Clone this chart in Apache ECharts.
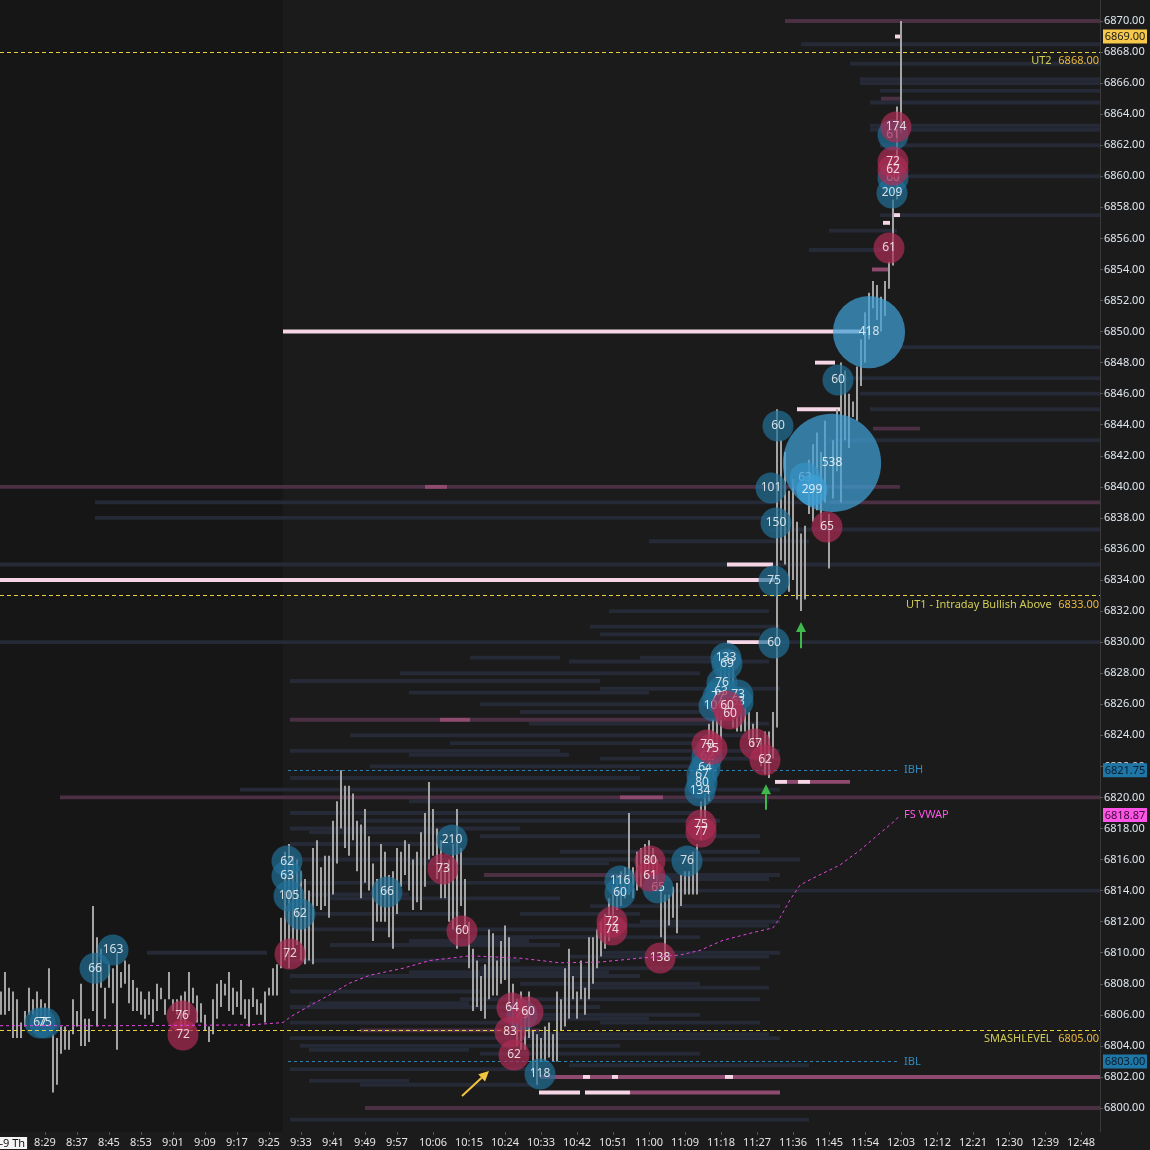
<!DOCTYPE html>
<html><head><meta charset="utf-8">
<script src="https://cdn.jsdelivr.net/npm/echarts@6/dist/echarts.min.js"></script>
<style>html,body{margin:0;padding:0;background:#1b1b1b;}#c{width:1150px;height:1150px;}</style>
</head><body><div id="c"></div>
<script>
// ---------------- DATA ----------------
// one-minute range bars, first bar at 8:18 (minute 498 of the day)
const barStartMinute = 498;
const barHigh = [6807.5,6808.75,6807.75,6807.5,6807.0,6805.5,6806.25,6807.75,6807.0,6807.5,
6807.0,6806.75,6809.0,6804.75,6804.5,6805.25,6805.25,6805.0,6807.0,6806.25,
6808.0,6805.75,6805.75,6813.0,6811.0,6810.25,6807.75,6809.25,6809.0,6810.0,
6808.75,6809.5,6809.25,6808.25,6807.75,6807.5,6807.0,6807.5,6807.0,6808.0,
6807.75,6807.0,6808.75,6807.0,6807.0,6807.25,6807.5,6808.75,6807.75,6807.25,
6806.75,6806.0,6805.25,6807.0,6808.0,6808.25,6808.0,6808.75,6807.75,6807.5,
6808.25,6807.0,6807.0,6807.75,6807.0,6806.75,6807.5,6807.75,6809.0,6809.25,
6812.25,6816.5,6817.0,6816.25,6816.0,6815.25,6814.75,6814.0,6816.75,6817.25,
6815.5,6816.25,6816.25,6818.5,6819.75,6821.75,6820.75,6820.75,6820.25,6818.5,
6818.25,6819.25,6817.5,6815.75,6814.75,6817.0,6816.5,6815.0,6815.25,6816.75,
6816.5,6817.25,6817.0,6816.0,6816.5,6817.75,6819.0,6821.0,6819.25,6818.0,
6817.25,6815.5,6816.0,6817.0,6819.25,6816.75,6814.75,6812.0,6810.25,6809.5,
6808.5,6809.25,6811.5,6811.25,6809.5,6810.75,6811.75,6811.0,6808.0,6807.0,
6807.5,6806.25,6807.5,6805.0,6804.75,6804.5,6805.25,6805.5,6804.75,6807.5,
6807.0,6809.0,6810.25,6808.5,6807.5,6809.5,6807.75,6811.0,6811.0,6811.5,
6812.0,6812.5,6813.5,6814.25,6815.0,6815.25,6815.5,6819.0,6815.5,6816.5,
6816.75,6817.0,6817.25,6816.75,6816.0,6814.25,6813.75,6813.75,6814.25,6814.5,
6815.0,6815.25,6815.25,6816.5,6817.0,6819.75,6820.25,6824.75,6825.0,6827.0,
6829.0,6829.25,6829.5,6829.0,6827.0,6826.75,6825.75,6825.5,6824.75,6825.5,
6823.75,6824.25,6824.25,6825.5,6845.0,6843.0,6842.25,6839.75,6840.5,6837.75,
6837.0,6837.5,6841.75,6842.75,6843.5,6842.25,6844.25,6838.25,6843.0,6845.0,
6848.0,6847.5,6846.0,6845.5,6847.75,6849.5,6851.25,6852.5,6853.25,6853.0,
6852.25,6853.25,6854.5,6858.5,6864.5,6870.0];
const barLow = [6806.0,6806.0,6806.25,6804.5,6804.5,6804.5,6805.25,6806.0,6806.0,6805.5,
6805.75,6805.5,6805.5,6801.0,6801.5,6803.5,6803.75,6803.75,6804.75,6805.25,
6804.0,6804.0,6804.25,6806.25,6805.25,6807.75,6805.75,6807.75,6806.75,6803.75,
6807.75,6808.0,6806.75,6806.25,6806.25,6806.0,6805.75,6806.0,6805.5,6806.25,
6807.0,6806.0,6807.0,6806.25,6806.0,6805.0,6805.25,6806.0,6806.75,6805.5,
6805.5,6805.0,6804.25,6804.75,6805.75,6806.5,6807.25,6806.25,6806.0,6806.5,
6806.0,6805.75,6805.25,6806.5,6806.0,6806.0,6805.5,6807.25,6807.25,6807.25,
6809.0,6809.5,6809.0,6810.25,6810.5,6809.5,6809.25,6809.5,6809.25,6813.0,
6812.75,6813.0,6812.25,6813.75,6815.75,6818.0,6816.75,6816.25,6817.25,6815.25,
6813.5,6814.5,6814.0,6810.75,6812.0,6812.0,6812.0,6811.0,6810.25,6812.5,
6814.25,6815.0,6814.0,6812.75,6813.25,6812.75,6814.25,6816.0,6816.25,6814.75,
6813.5,6813.5,6812.0,6811.5,6810.25,6813.0,6811.5,6809.0,6806.25,6806.5,
6806.25,6805.75,6807.0,6807.25,6807.25,6808.0,6808.25,6806.5,6805.0,6804.0,
6803.75,6803.75,6804.5,6802.25,6801.5,6803.0,6803.0,6803.25,6803.0,6803.0,
6805.0,6805.25,6805.75,6807.0,6805.75,6807.0,6806.0,6807.0,6808.0,6809.0,
6809.75,6810.25,6810.75,6811.5,6812.75,6813.0,6813.5,6813.75,6813.5,6814.0,
6814.25,6814.75,6815.25,6815.0,6814.25,6811.0,6809.5,6811.75,6812.25,6811.25,
6813.0,6813.75,6813.75,6813.75,6813.75,6817.25,6818.0,6819.75,6821.25,6823.0,
6823.75,6825.0,6826.25,6824.5,6824.25,6824.25,6824.25,6823.75,6823.25,6823.5,
6822.0,6821.5,6821.25,6822.5,6824.5,6835.25,6835.0,6833.25,6834.0,6832.75,
6832.0,6832.75,6838.25,6837.75,6838.5,6837.25,6839.0,6834.75,6839.25,6841.0,
6839.0,6843.0,6842.5,6844.5,6844.25,6846.5,6848.0,6849.5,6851.5,6850.75,
6850.0,6851.0,6852.75,6854.25,6858.5,6862.75];

// large trade bubbles: [minute of day, price, size]
const buyBubbles = [[507.75,6805.47,67],[509,6805.47,75],[521.5,6809.0,66],[526,6810.17,163],
[569.5,6815.9,62],[569.5,6814.94,63],[570,6813.65,105],[572.75,6812.49,62],[594.5,6813.91,66],
[610.75,6817.26,210],[628.25,6805.99,79],[632.75,6802.19,118],[652.75,6814.62,116],[652.75,6813.85,60],
[662.25,6814.17,65],[669.5,6815.91,76],[672.75,6820.41,134],[673.25,6820.93,80],[673.25,6821.44,67],
[674,6821.9,64],[674.5,6822.6,62],[676.25,6825.89,106],[677.25,6826.47,77],[678,6826.79,63],
[678.25,6827.37,76],[682.25,6826.6,73],[682.25,6826.15,63],[679.25,6828.98,133],[679.5,6828.59,69],
[691.25,6829.94,60],[691.25,6833.94,75],[691.75,6837.67,150],[690.5,6839.93,101],[692.25,6843.92,60],
[699,6840.57,63],[700.75,6839.8,299],[705.75,6841.54,538],[707.25,6846.88,60],[715,6849.97,418],
[720.75,6858.92,209],[721,6859.89,60],[721,6862.66,61]];
const sellBubbles = [[543.25,6805.92,76],[543.5,6804.7,72],[570.25,6809.92,72],[608.5,6815.39,73],
[613.25,6811.4,60],[625.75,6806.44,64],[629.75,6806.18,60],[625.25,6804.89,83],[626.25,6803.41,62],
[650.75,6811.98,72],[650.75,6811.46,74],[660.25,6815.91,80],[660.25,6814.94,61],[662.75,6809.66,138],
[673,6818.22,75],[673,6817.77,77],[674.5,6823.38,70],[675.75,6823.12,75],[686.5,6823.44,67],
[689,6822.41,62],[679.5,6825.89,60],[680.25,6825.37,60],[704.5,6837.41,65],[720,6855.38,61],
[721,6860.4,62],[721,6860.92,72],[721.75,6863.17,174]];

// session VWAP
const vwapTime  = [497.75,526.5,560.25,568.5,570.25,575.25,580.25,585.25,590.25,598.5,605.25,612,615.25,
627.75,637.75,647.75,657.75,667.75,672.75,678.5,685.25,691,692.75,695.25,697.75,701,707.75,712.75,717.75,721.5,722.75];
const vwapPrice = [6805.3,6805.3,6805.35,6805.5,6805.85,6806.6,6807.3,6808.05,6808.55,6809.0,6809.5,6809.7,6809.8,
6809.65,6809.35,6809.4,6809.65,6809.85,6810.15,6810.8,6811.25,6811.6,6812.25,6813.4,6814.35,6814.8,6815.65,6816.6,6817.7,6818.5,6818.87];

// resting liquidity rows: [price, start minute, end minute]
const liqThin = [
[6868.5,698,772.75],[6867.25,710.25,772.75],[6866.25,712.75,772.75],[6866,712.75,772.75],[6865.5,717.75,772.75],
[6864.75,715.25,772.75],[6863.25,715.25,772.75],[6863,715.25,772.75],[6862,717.75,772.75],[6860,722.75,772.75],
[6857.5,717.75,772.75],[6856.5,705,722],[6855.25,700,720],[6849,722.75,772.75],[6847,707.75,772.75],
[6846,712.75,772.75],[6845,715.25,772.75],[6839,521.5,705.25],[6838,521.5,692.75],[6835,497.75,772.75],
[6830,497.75,772.75],[6814,660.25,772.75],[6810,534.5,564.5],
[6831,645.25,692.75],[6830.5,647.75,687.75],[6829,615.25,637.75],[6829,657.75,677.75],[6828,597.75,672.75],
[6827.5,570.25,647.75],[6827,647.75,692.75],[6826,617.75,677.75],[6825.5,627.75,672.75],[6824,585.25,687.75],
[6823.5,610.25,672.75],[6823,570.25,637.75],[6823,657.75,692.75],[6822.5,647.75,692.75],[6822,590.25,672.75],
[6821.25,570.25,657.75],[6820.5,557.75,692.75],[6819,570.25,672.75],[6818.5,587.75,677.75],[6818,570.25,627.75],
[6817.5,617.75,687.75],[6817,570.25,612.75],[6816.5,637.75,687.75],[6816,570.25,697.75],[6815,627.75,692.75],
[6814.5,570.25,652.75],[6813.5,580.25,637.75],[6813,645.25,692.75],[6812.5,570.25,612.75],[6812.5,627.75,657.75],
[6812,657.75,692.75],[6811.5,570.25,647.75],[6811,615.25,672.75],[6810.5,580.25,637.75],[6810,647.75,692.75],
[6809.5,570.25,627.75],[6809,617.75,687.75],[6808.5,570.25,657.75],[6808,627.75,672.75],[6807.5,570.25,617.75],
[6807,612.75,687.75],[6806.5,570.25,647.75],[6806,622.75,672.75],[6805.5,570.25,632.75],[6805.5,647.75,687.75],
[6804.5,570.25,692.75],[6804,572.75,652.75],[6803.5,617.75,672.75],[6802.5,570.25,632.75],[6801.5,587.75,632.75],
[6799.25,570.25,700],
[6828.75,640,690],[6826.75,600,660],[6824.75,630,690],[6822.75,600,640],[6819.75,600,690],[6817.75,575,610],
[6815.75,600,650],[6814.75,660,690],[6813.75,575,600],[6811.75,650,690],[6810.75,600,630],[6809.75,640,690],
[6808.75,600,650],[6807.75,640,690],[6806.75,575,615],[6805.75,625,660],[6804.75,630,690],[6803.75,575,615],
[6802.75,640,700],[6801.75,575,600],[6832,650,690],[6836.5,660,700],[6837.25,690,772.75],[6843,705,772.75]];
const liqMid = [[6870,694,772.75],[6840,497.75,722.75],[6839,705.25,772.75],[6820,512.75,772.75],
[6825,570.25,677.75],[6805,587.75,632.75],[6800,589,772.75],[6843.75,716,727.75],[6865,718,723],[6815,618.75,657.75]];
const liqStrong = [[6802,632.75,772.75],[6801,655.25,692.75],[6840,604,609.5],[6825,607.75,615.25],
[6821,694.5,697.25],[6821,700.25,710.25],[6820,652.75,663.5],[6854,715.75,720.25]];
const liqPeak = [[6850,568.5,712.75],[6834,497.75,691.5],[6835,679.5,691],[6830,679.5,690.25],
[6848,701.5,706.5],[6845,697,707.75],[6821,691.5,694.5],[6821,697.25,700.25],[6802,643.5,645.25],
[6802,650.75,652.25],[6802,679,681],[6801,632.5,642.75],[6801,644,655.25],[6869,721.5,723.25],
[6857.5,720.75,722.75],[6857,718.5,720.25]];

// key levels
const levelNames  = ['UT2', 'UT1 - Intraday Bullish Above', 'SMASHLEVEL'];
const levelPrices = [6868, 6833, 6805];
const ibNames  = ['IBH', 'IBL'];
const ibPrices = [6821.75, 6803.0];
const ibStart = 569.75, ibEnd = 722.75;
const lastPrice = 6869.0;

// arrows: [fromMinute, fromPrice, toMinute, toPrice, kind]
const arrows = [[689.25,6819.2,689.25,6820.85,0],[698,6829.6,698,6831.3,0],[613.25,6800.77,620,6802.38,1]];

// axis ticks
const yTicks = [];
for (let p = 6800; p <= 6870; p += 2) yTicks.push(p);
const xTickLabels = ['8:29','8:37','8:45','8:53','9:01','9:09','9:17','9:25','9:33','9:41','9:49','9:57',
'10:06','10:15','10:24','10:33','10:42','10:51','11:00','11:09','11:18','11:27','11:36','11:45','11:54',
'12:03','12:12','12:21','12:30','12:39','12:48'];
const dateLabel = '10-9 Th';
const dateLabelMinute = 499.25;

// ---------------- CHART ----------------
const toMin = s => { const a = s.split(':').map(Number); return a[0]*60 + a[1]; };
const xTicks = xTickLabels.map(toMin);
const X_MIN = 497.75, X_MAX = 772.75, Y_MIN = 6798.454, Y_MAX = 6871.352;
const FONT = '"Noto Sans", "DejaVu Sans", sans-serif';

function rowSeries(data, color, z) {
  return {
    type: 'custom', data, z, silent: true, encode: { x: [1, 2], y: 0 },
    renderItem(params, api) {
      const a = api.coord([api.value(1), api.value(0)]);
      const b = api.coord([api.value(2), api.value(0)]);
      const h = api.size([0, 0.25])[1];
      return { type: 'rect', shape: { x: a[0], y: a[1] - h / 2, width: b[0] - a[0], height: h }, style: { fill: color } };
    }
  };
}
const bubbleDiameter = v => v >= 400 ? v * 0.217 - 18.5 : 31;
const bubbleLabel = { show: true, position: 'inside', formatter: p => p.value[2], color: '#ffffff', fontSize: 12, fontFamily: FONT };

const levelColor = '#e8d03c';
const levelMarks = levelPrices.map((p, i) => ({
  yAxis: p,
  lineStyle: { color: levelColor, type: [4, 3], width: 1 },
  label: { show: true, position: 'insideEndBottom', distance: [1, 3],
    formatter: '{a|' + levelNames[i] + '}  {b|' + p.toFixed(2) + '}',
    rich: { a: { color: '#d2cd57', fontSize: 11, fontFamily: FONT }, b: { color: '#eab73d', fontSize: 11, fontFamily: FONT } } }
}));
const ibMarks = ibPrices.map((p, i) => [
  { coord: [ibStart, p], lineStyle: { color: '#2a84b6', type: [3, 3], width: 1 },
    label: { show: true, position: 'end', distance: 4, formatter: ibNames[i], color: '#2f8cc2', fontSize: 11, fontFamily: FONT } },
  { coord: [ibEnd, p] }
]);

const tagPrices = [lastPrice, ibPrices[0], vwapPrice[vwapPrice.length - 1], ibPrices[1]];
const tagBg = ['#f6c94a', '#1f77a8', '#ff55e6', '#1f77a8'];
const tagFg = ['#1a1a1a', '#0b1c2a', '#3b0a36', '#0b1c2a'];

const option = {
  backgroundColor: '#1b1b1b',
  animation: false,
  grid: { left: 0, top: 0, width: 1100, height: 1132, outerBoundsMode: 'none', containLabel: false },
  xAxis: {
    type: 'value', min: X_MIN, max: X_MAX, splitLine: { show: false },
    axisLine: { show: false },
    axisTick: { show: true, customValues: xTicks, length: 3, lineStyle: { color: '#555' } },
    axisLabel: {
      customValues: [dateLabelMinute].concat(xTicks), color: '#e4e4e4', fontSize: 11, fontFamily: FONT, margin: 5,
      hideOverlap: false,
      formatter: v => {
        if (v === dateLabelMinute) return '{d|' + dateLabel + '}';
        const h = Math.floor(v / 60), m = Math.round(v - h * 60);
        return h + ':' + (m < 10 ? '0' : '') + m;
      },
      rich: { d: { backgroundColor: '#f4f4f4', color: '#111', padding: [1, 2, 0, 2], fontSize: 11, fontFamily: FONT } }
    }
  },
  yAxis: {
    type: 'value', position: 'right', min: Y_MIN, max: Y_MAX, splitLine: { show: false },
    axisLine: { show: true, lineStyle: { color: '#3a3a3a' } },
    axisTick: { show: true, customValues: yTicks, length: 3, lineStyle: { color: '#555' } },
    axisLabel: { customValues: yTicks, formatter: v => v.toFixed(2), color: '#dfe7ef', fontSize: 11, fontFamily: FONT, margin: 4 }
  },
  series: [
    { // pre-market shading
      type: 'custom', z: 0, silent: true, data: [[X_MIN, 568.5]], encode: { x: [0, 1] },
      renderItem(params, api) {
        const a = api.coord([api.value(0), Y_MAX]);
        const b = api.coord([api.value(1), Y_MIN]);
        return { type: 'rect', shape: { x: a[0], y: a[1], width: b[0] - a[0], height: b[1] - a[1] }, style: { fill: '#161616' } };
      }
    },
    rowSeries(liqThin, '#252a36', 1),
    rowSeries(liqMid, '#4b2f43', 1),
    rowSeries(liqStrong, '#8f4a70', 1),
    rowSeries(liqPeak, '#f6d6e5', 1),
    { // price bars
      type: 'custom', z: 2, silent: true,
      data: barHigh.map((h, i) => [barStartMinute + i, h, barLow[i]]),
      encode: { x: 0, y: [1, 2] },
      renderItem(params, api) {
        const hi = api.coord([api.value(0), api.value(1)]);
        const lo = api.coord([api.value(0), api.value(2)]);
        return { type: 'rect', shape: { x: hi[0] - 1, y: hi[1], width: 2, height: Math.max(lo[1] - hi[1], 1) }, style: { fill: '#a4a4a4' } };
      }
    },
    { type: 'scatter', z: 3, data: buyBubbles.filter(b => b[2] < 250), symbolSize: v => bubbleDiameter(v[2]),
      itemStyle: { color: 'rgba(33,112,152,0.87)' }, label: bubbleLabel, emphasis: { disabled: true } },
    { type: 'scatter', z: 4, data: buyBubbles.filter(b => b[2] >= 250), symbolSize: v => bubbleDiameter(v[2]),
      itemStyle: { color: 'rgba(62,160,214,0.9)' }, label: bubbleLabel, emphasis: { disabled: true } },
    { type: 'scatter', z: 5, data: sellBubbles, symbolSize: v => bubbleDiameter(v[2]),
      itemStyle: { color: 'rgba(172,44,84,0.88)' }, label: bubbleLabel, emphasis: { disabled: true } },
    { // VWAP + key levels
      type: 'line', z: 6, silent: true, showSymbol: false,
      data: vwapTime.map((t, i) => [t, vwapPrice[i]]),
      lineStyle: { color: '#e545e2', type: [3, 3], width: 1 },
      endLabel: { show: true, formatter: 'FS VWAP', color: '#ff55e8', fontSize: 11, fontFamily: FONT, distance: 4 },
      markLine: { silent: true, symbol: ['none', 'none'], animation: false, data: levelMarks.concat(ibMarks) }
    },
    { // arrows
      type: 'custom', z: 7, silent: true, data: arrows, encode: { x: [0, 2], y: [1, 3] },
      renderItem(params, api) {
        const a = api.coord([api.value(0), api.value(1)]);
        const b = api.coord([api.value(2), api.value(3)]);
        const col = api.value(4) === 0 ? '#3fb84c' : '#f2c53d';
        const ang = Math.atan2(b[1] - a[1], b[0] - a[0]);
        const L = 10, W = 5;
        const hx = b[0] - L * Math.cos(ang), hy = b[1] - L * Math.sin(ang);
        return { type: 'group', children: [
          { type: 'line', shape: { x1: a[0], y1: a[1], x2: hx, y2: hy }, style: { stroke: col, lineWidth: 2 } },
          { type: 'polygon', shape: { points: [[b[0], b[1]], [hx + W * Math.sin(ang), hy - W * Math.cos(ang)], [hx - W * Math.sin(ang), hy + W * Math.cos(ang)]] }, style: { fill: col } }
        ] };
      }
    },
    { // price tags on axis
      type: 'custom', z: 8, silent: true, clip: false,
      data: tagPrices.map((p, i) => [X_MAX, p, i]), encode: { x: 0, y: 1 },
      renderItem(params, api) {
        const i = api.value(2);
        const c = api.coord([api.value(0), api.value(1)]);
        const x = c[0] + 3;
        return { type: 'group', children: [
          { type: 'rect', shape: { x: x, y: c[1] - 7, width: 44, height: 14 }, style: { fill: tagBg[i] } },
          { type: 'text', x: x + 22, y: c[1] + 0.5, style: { text: api.value(1).toFixed(2), align: 'center', verticalAlign: 'middle', fill: tagFg[i], font: '11px ' + FONT } }
        ] };
      }
    }
  ]
};
const chart = echarts.init(document.getElementById('c'));
chart.setOption(option);
</script>
</body></html>
